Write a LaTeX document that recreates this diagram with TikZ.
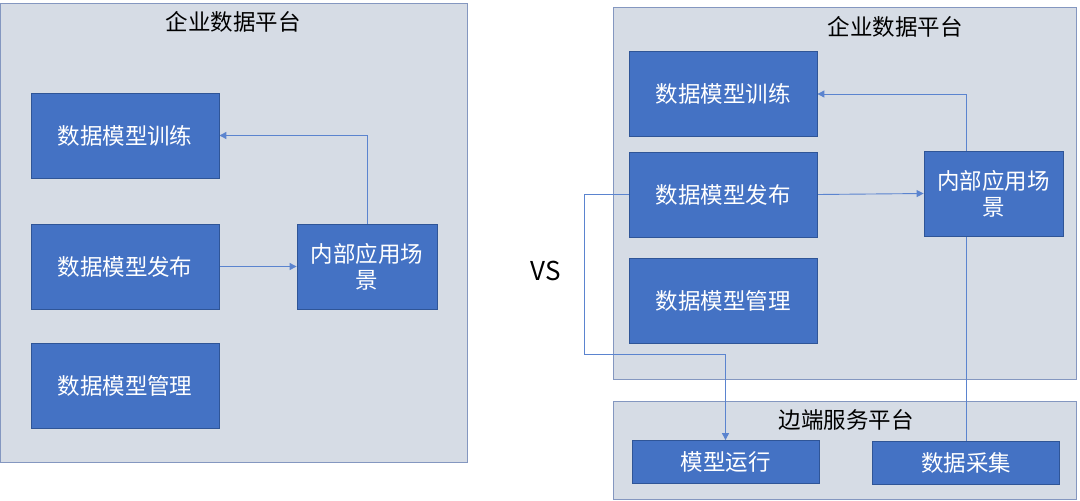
\documentclass[tikz,border=0pt]{standalone}
\usepackage{fontspec}
\setmainfont{Noto Sans CJK SC}
\usetikzlibrary{arrows.meta}
\pgfdeclarelayer{bgzero}
\pgfdeclarelayer{bgone}
\pgfsetlayers{bgzero,bgone,main}
\definecolor{contfill}{HTML}{D6DCE5}
\definecolor{contdraw}{HTML}{8497C0}
\definecolor{boxfill}{HTML}{4472C4}
\definecolor{boxdraw}{HTML}{2F5597}
\definecolor{linec}{HTML}{5B84CF}
\tikzset{
  cont/.style={draw=contdraw, fill=contfill, line width=1pt, inner sep=0pt},
  blk/.style={draw=boxdraw, fill=boxfill, line width=0.8pt, text=white, align=center,
    font=\fontsize{22.5}{26}\selectfont, inner sep=0pt},
  ttl/.style={text=black, font=\fontsize{22.5}{26}\selectfont, inner sep=0pt},
  conn/.style={draw=linec, line width=0.9pt},
  arr/.style={conn, -{Triangle[length=7pt,width=7pt]}}
}
\begin{document}
\begin{tikzpicture}[x=1pt,y=-1pt]
\useasboundingbox (0,0) rectangle (1080,501);
% containers
\begin{pgfonlayer}{bgzero}
\fill[white] (0,0) rectangle (1080,501);
\draw[cont] (0,3) rectangle (467,462);
\draw[cont] (613,7) rectangle (1076,379);
\draw[cont] (613,401) rectangle (1076,499);
\end{pgfonlayer}
\node[ttl] (t1) at (233,22) {企业数据平台};
\node[ttl] (t2) at (895,27) {企业数据平台};
\node[ttl] (t3) at (846,420) {边端服务平台};
\node[text=black, font=\fontsize{26}{30}\selectfont, inner sep=0pt] (vs) at (546,271) {VS};
% left boxes
\node[blk, minimum width=188pt, minimum height=85pt] (trainL) at (125,135.5) {数据模型训练};
\node[blk, minimum width=188pt, minimum height=85pt] (pubL) at (125,266.5) {数据模型发布};
\node[blk, minimum width=188pt, minimum height=85pt] (mgmtL) at (125,385.5) {数据模型管理};
\node[blk, minimum width=140pt, minimum height=85pt] (innerL) at (367,266.5) {内部应用场\\景};
% right boxes
\node[blk, minimum width=188pt, minimum height=85pt] (trainR) at (723,94) {数据模型训练};
\node[blk, minimum width=188pt, minimum height=85pt] (pubR) at (723,194.5) {数据模型发布};
\node[blk, minimum width=188pt, minimum height=85pt] (mgmtR) at (723,300.5) {数据模型管理};
\node[blk, minimum width=139pt, minimum height=85pt] (innerR) at (993.5,193.5) {内部应用场\\景};
\node[blk, minimum width=187pt, minimum height=43pt] (run) at (725.5,462) {模型运行};
\node[blk, minimum width=187pt, minimum height=43pt] (collect) at (966,463) {数据采集};
% connectors
\begin{pgfonlayer}{bgone}
\draw[arr] (pubL.east) -- (innerL.west);
\draw[arr] (innerL.north) |- (trainL.east);
\draw[arr] (pubR.east) -- (innerR.west);
\draw[arr] (collect.north) |- (trainR.east);
\coordinate (c1) at (584,194.5);
\coordinate (c2) at (584,354);
\coordinate (c3) at (725.5,354);
\draw[arr] (pubR.west) -- (c1) -- (c2) -- (c3) -- (run.north);
\end{pgfonlayer}
\end{tikzpicture}
\end{document}
